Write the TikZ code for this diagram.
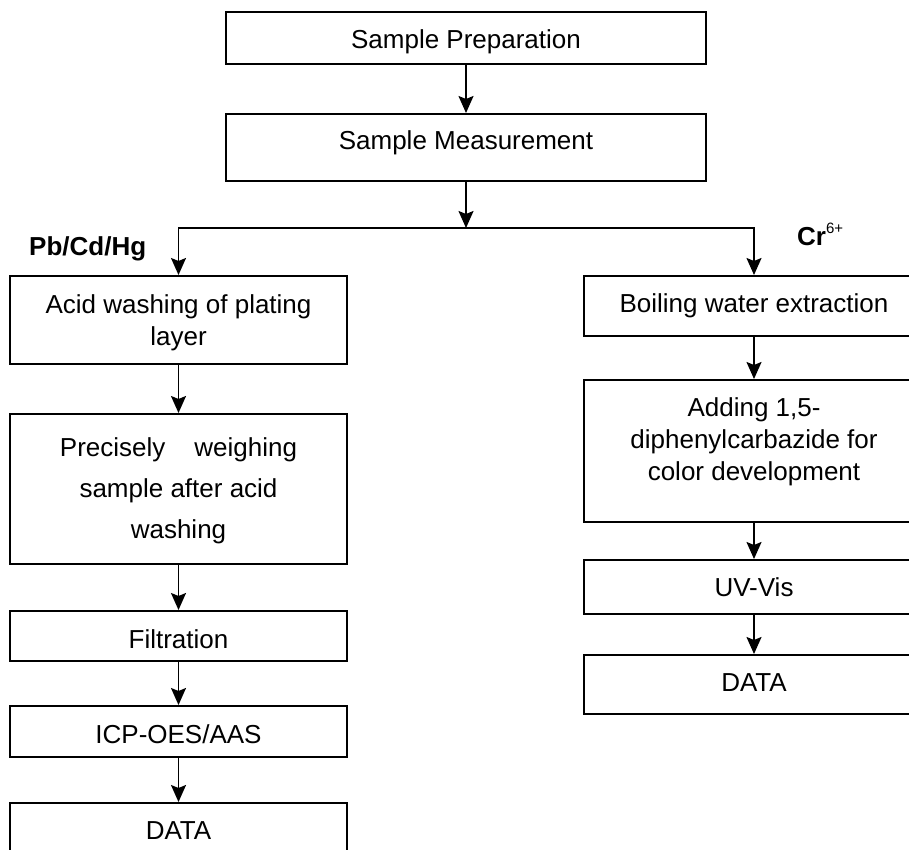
\documentclass[tikz,border=0pt]{standalone}
\usepackage{fontspec}
\setmainfont{Liberation Sans}
\usetikzlibrary{arrows.meta}
\begin{document}
\begin{tikzpicture}[x=1pt,y=-1pt,
  box/.style={draw=black, line width=2pt, inner sep=0pt, rectangle},
  txt/.style={font=\fontsize{26}{32}\selectfont, align=center, inner sep=0pt},
  one/.style={txt, text height=19pt, text depth=0pt},
  lbl/.style={font=\fontsize{26}{32}\selectfont\bfseries, inner sep=0pt, anchor=base west},
  arr/.style={draw=black, line width=1.8pt, -{Stealth[length=17pt,width=15pt,inset=3pt]}},
  ln/.style={draw=black, line width=1.8pt}
]
\clip (0,0) rectangle (909,850);
\fill[white] (0,0) rectangle (909,850);

% top boxes
\node[box, minimum width=480pt, minimum height=52pt] (prep) at (466,38) {};
\node[one] (tprep) at (466,39) {Sample Preparation};
\node[box, minimum width=480pt, minimum height=67pt] (meas) at (466,147.5) {};
\node[one] (tmeas) at (466,140) {Sample Measurement};

% left column
\node[box, minimum width=337pt, minimum height=88pt] (acid) at (178.5,320) {};
\node[txt] (tacid) at (178.5,323) {Acid washing of plating\\layer};
\node[box, minimum width=337pt, minimum height=150pt] (prec) at (178.5,489) {};
\node[txt, font=\fontsize{26}{41}\selectfont] (tprec) at (178.5,491) {Precisely\hspace{29pt}weighing\\sample after acid\\washing};
\node[box, minimum width=337pt, minimum height=50pt] (filt) at (178.5,636) {};
\node[one] (tfilt) at (178.5,639) {Filtration};
\node[box, minimum width=337pt, minimum height=51pt] (icp) at (178.5,731.5) {};
\node[one] (ticp) at (178.5,734) {ICP-OES/AAS};
\node[box, minimum width=337pt, minimum height=55pt] (datal) at (178.5,830.5) {};
\node[one] (tdatal) at (178.5,830) {DATA};

% right column
\node[box, minimum width=340pt, minimum height=60pt] (boil) at (754,306) {};
\node[one] (tboil) at (754,303) {Boiling water extraction};
\node[box, minimum width=340pt, minimum height=142pt] (add) at (754,451) {};
\node[txt] (tadd) at (754,442) {Adding 1,5-\\diphenylcarbazide for\\color development};
\node[box, minimum width=340pt, minimum height=54pt] (uv) at (754,587) {};
\node[one] (tuv) at (754,587) {UV-Vis};
\node[box, minimum width=340pt, minimum height=59pt] (datar) at (754,684.5) {};
\node[one] (tdatar) at (754,682) {DATA};

% branch labels
\node[lbl] (pb) at (29,255) {Pb/Cd/Hg};
\node[lbl] (cr) at (797,245) {Cr\raisebox{12pt}{\fontsize{15}{15}\selectfont\mdseries 6+}};

% connectors
\coordinate (j) at (466,228);
\draw[arr] (prep) -- (meas);
\draw[arr] (meas) -- (j);
\draw[arr] (j) -| (acid.north);
\draw[arr] (j) -| (boil.north);
\draw[arr] (acid) -- (prec);
\draw[arr] (prec) -- (filt);
\draw[arr] (filt) -- (icp);
\draw[arr] (icp) -- (datal);
\draw[arr] (boil) -- (add);
\draw[arr] (add) -- (uv);
\draw[arr] (uv) -- (datar);
\end{tikzpicture}
\end{document}
